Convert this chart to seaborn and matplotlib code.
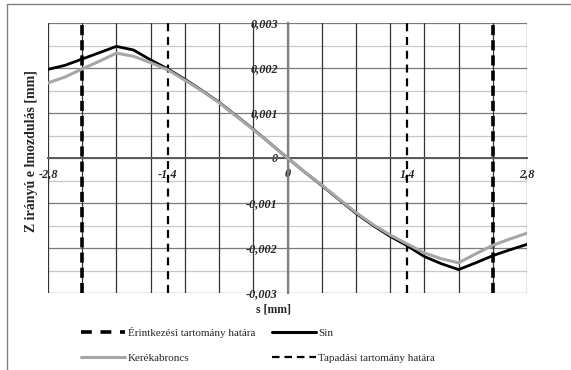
import matplotlib
matplotlib.use("Agg")
import matplotlib.pyplot as plt
from matplotlib.lines import Line2D
import seaborn as sns
import pandas as pd

# ---- data ----
s_mm = [-2.8, -2.6, -2.4, -2.2, -2.0, -1.8, -1.6, -1.4, -1.2, -1.0, -0.8, -0.6, -0.4, -0.2, 0.0,
        0.2, 0.4, 0.6, 0.8, 1.0, 1.2, 1.4, 1.6, 1.8, 2.0, 2.2, 2.4, 2.6, 2.8]
sin_z = [0.00197, 0.00206, 0.00220, 0.00234, 0.00248, 0.00240, 0.00218, 0.00198, 0.00175, 0.00150,
         0.00124, 0.00094, 0.00064, 0.00032, 0.0,
         -0.00031, -0.00061, -0.00092, -0.00123, -0.00150, -0.00174, -0.00195, -0.00219, -0.00235,
         -0.00248, -0.00233, -0.00217, -0.00204, -0.00192]
kerek_z = [0.00167, 0.00180, 0.00198, 0.00215, 0.00233, 0.00226, 0.00212, 0.00196, 0.00173, 0.00149,
           0.00123, 0.00093, 0.00063, 0.00032, 0.0,
           -0.00031, -0.00060, -0.00091, -0.00121, -0.00148, -0.00171, -0.00191, -0.00211, -0.00224,
           -0.00233, -0.00213, -0.00194, -0.00180, -0.00167]
erintkezesi_hatar = [-2.4, 2.4]
tapadasi_hatar = [-1.4, 1.4]

x_ticks = [-2.8, -1.4, 0.0, 1.4, 2.8]
x_ticklabels = ["-2,8", "-1,4", "0", "1,4", "2,8"]
y_ticks = [0.003, 0.002, 0.001, 0.0, -0.001, -0.002, -0.003]
y_ticklabels = ["0,003", "0,002", "0,001", "0", "-0,001", "-0,002", "-0,003"]
x_grid = [-2.8, -2.4, -2.0, -1.6, -1.2, -0.8, -0.4, 0.0, 0.4, 0.8, 1.2, 1.6, 2.0, 2.4, 2.8]
y_grid_major = [-0.003, -0.002, -0.001, 0.0, 0.001, 0.002, 0.003]
y_grid_minor = [-0.0025, -0.0015, -0.0005, 0.0005, 0.0015, 0.0025]

lbl_erint = "Érintkezési tartomány határa"
lbl_sin = "Sin"
lbl_kerek = "Kerékabroncs"
lbl_tapad = "Tapadási tartomány határa"

sns.set_style("white")
plt.rcParams["font.family"] = ["Liberation Serif", "DejaVu Serif"]

W, H = 571, 370
fig = plt.figure(figsize=(W / 100, H / 100), dpi=100)
fig.patch.set_facecolor("white")
L, R, T, B = 48, 527, 23, 293
ax = fig.add_axes([L / W, 1 - B / H, (R - L) / W, (B - T) / H])
ax.set_xlim(-2.8, 2.8)
ax.set_ylim(-0.003, 0.003)

# grid
for g in y_grid_minor:
    ax.axhline(g, color="#c8c8c8", lw=0.9, zorder=0)
for g in y_grid_major:
    ax.axhline(g, color="#7a7a7a", lw=0.9, zorder=0.5)
for g in x_grid:
    ax.axvline(g, color="#333333", lw=0.9, zorder=0.6)

df = pd.DataFrame({"s": s_mm, "sin": sin_z, "kerek": kerek_z})
sns.lineplot(data=df, x="s", y="sin", ax=ax, color="black", lw=2.0, zorder=4, sort=False)
sns.lineplot(data=df, x="s", y="kerek", ax=ax, color="#a6a6a6", lw=2.2, zorder=5, sort=False)

for b in erintkezesi_hatar:
    ax.axvline(b, color="black", lw=2.6, ls=(0, (2.8, 1.4)), zorder=3)
for b in tapadasi_hatar:
    ax.axvline(b, color="black", lw=1.6, ls=(0, (3.6, 2.6)), zorder=3)

# axes crossing at zero
for sp in ["top", "right"]:
    ax.spines[sp].set_visible(False)
ax.spines["left"].set_position(("data", 0))
ax.spines["bottom"].set_position(("data", 0))
ax.spines["left"].set_color("#808080")
ax.spines["left"].set_linewidth(1.6)
ax.spines["bottom"].set_color("#595959")
ax.spines["bottom"].set_linewidth(1.4)
ax.spines["left"].set_zorder(2)
ax.spines["bottom"].set_zorder(2)

ax.set_xticks(x_ticks)
ax.set_xticklabels(x_ticklabels)
ax.set_yticks(y_ticks)
ax.set_yticklabels(y_ticklabels)
ax.tick_params(axis="x", direction="out", length=4, width=1, color="#595959", pad=3,
               labelsize=8.8)
ax.tick_params(axis="y", direction="out", length=4, width=1, color="#808080", pad=3,
               labelsize=8.8)
for t in ax.get_xticklabels() + ax.get_yticklabels():
    t.set_fontstyle("italic")
    t.set_fontweight("bold")
ax.set_xlabel("")
ax.set_ylabel("")

fig.text(32 / W, 1 - 151 / H, "Z irányú e lmozdulás [mm]", rotation=90, ha="center", va="center",
         fontsize=10, fontweight="bold")
fig.text(274 / W, 1 - 309 / H, "s [mm]", ha="center", va="center", fontsize=8.5, fontweight="bold")

handles = [
    Line2D([], [], color="black", lw=2.6, ls=(0, (3.0, 2.4))),
    Line2D([], [], color="#a6a6a6", lw=2.2),
    Line2D([], [], color="black", lw=2.2),
    Line2D([], [], color="black", lw=1.6, ls=(0, (3.4, 2.2))),
]
labels = [lbl_erint, lbl_kerek, lbl_sin, lbl_tapad]
fig.legend(handles, labels, ncol=2, loc="upper left", bbox_to_anchor=(81 / W, 1 - 327 / H),
           frameon=False, fontsize=8, borderpad=0, borderaxespad=0, handlelength=4.0,
           handletextpad=0.2, columnspacing=1.5, labelspacing=1.35)

# chart frame (outer border)
fig.add_artist(Line2D([7 / W, 1], [1 - 4 / H, 1 - 4 / H], transform=fig.transFigure,
                      color="#808080", lw=1))
fig.add_artist(Line2D([7 / W, 7 / W], [0, 1 - 4 / H], transform=fig.transFigure,
                      color="#808080", lw=1))

fig.savefig("out.png", dpi=100, facecolor="white")
